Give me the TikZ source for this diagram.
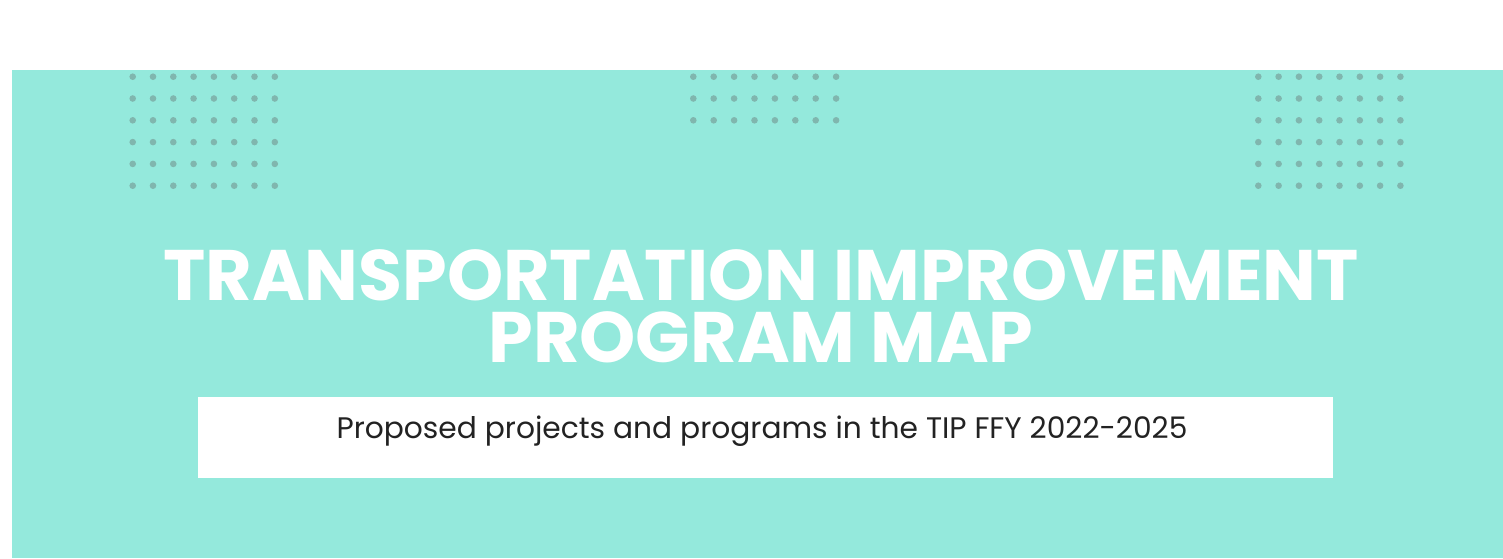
\documentclass[tikz,border=0pt]{standalone}
\usepackage{fontspec}
\setmainfont{Poppins}
\usepackage{xcolor}
\definecolor{tipteal}{HTML}{94E9DC}
\definecolor{tipdot}{HTML}{80B6AE}
\definecolor{tipink}{HTML}{222222}
\tikzset{
  dotgrid/.style={fill=tipdot},
  headline/.style={anchor=base, align=center, text=white, inner sep=0pt, font=\fontsize{71.5}{62}\selectfont\bfseries},
  subline/.style={anchor=base, text=tipink, inner sep=0pt, font=\fontsize{29.7}{29.7}\selectfont},
}
\begin{document}
\begin{tikzpicture}[x=1pt,y=-1pt]
    \useasboundingbox (0,0) rectangle (1503,558);
    \fill[white] (0,0) rectangle (1503,558);
    \fill[tipteal] (12,70) rectangle (1503,558);
    % dot grids
    \foreach \i in {0,...,7} {
      \foreach \j in {0,...,5} {
        \fill[dotgrid] (132.7+20.3*\i, 76.7+21.8*\j) circle (3.3);
        \fill[dotgrid] (1258.3+20.3*\i, 76.7+21.8*\j) circle (3.3);
      }
      \foreach \j in {0,...,2} {
        \fill[dotgrid] (693.3+20.4*\i, 76.7+21.8*\j) circle (3.3);
      }
    }
    \node[headline] (title) at (761, 362) {TRANSPORTATION IMPROVEMENT\\PROGRAM MAP};
    \node[fill=white, minimum width=1135pt, minimum height=81pt, inner sep=0pt] (box) at (765.5, 437.5) {};
    \node[subline] (sub) at (762, 438) {Proposed projects and programs in the TIP FFY 2022-2025};
\end{tikzpicture}
\end{document}
